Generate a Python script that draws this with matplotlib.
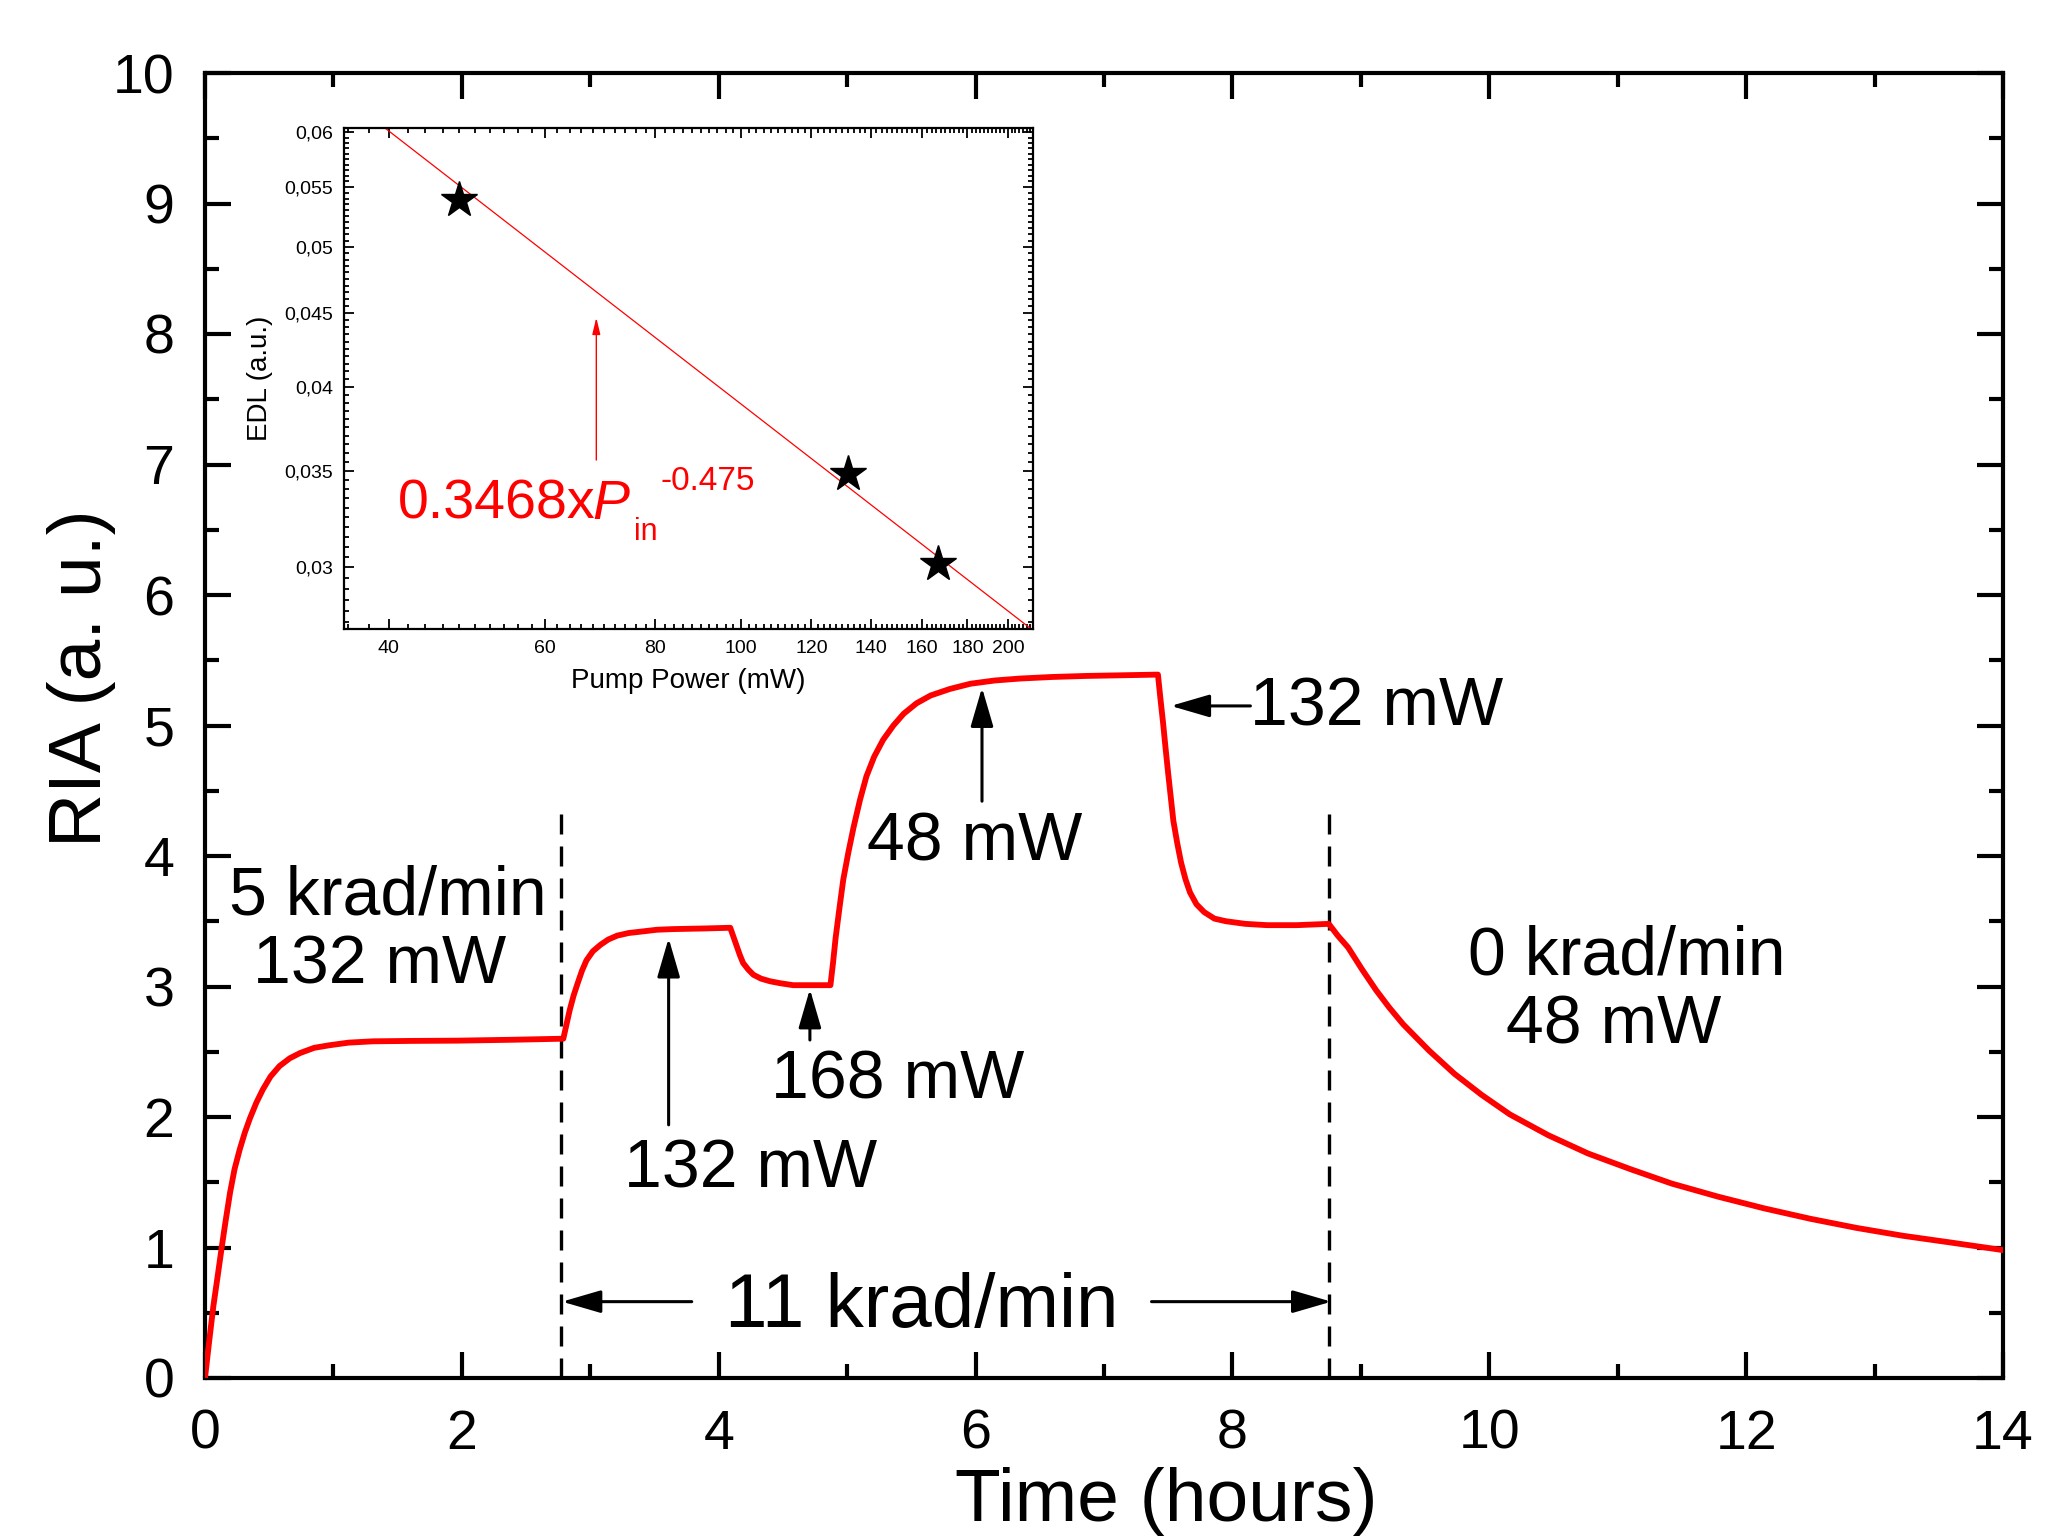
import numpy as np
import matplotlib
matplotlib.use("Agg")
import matplotlib.pyplot as plt
from matplotlib.ticker import FixedLocator, FixedFormatter, NullFormatter, MultipleLocator

plt.rcParams['font.family'] = ['Liberation Sans', 'DejaVu Sans']

# main curve: RIA vs time
time_h = [0, 0.03, 0.065, 0.1, 0.13, 0.16, 0.195, 0.23, 0.27, 0.31, 0.35, 0.40, 0.45, 0.51,
          0.58, 0.66, 0.74, 0.85, 0.97, 1.12, 1.31, 1.6, 1.96, 2.4, 2.79,
          2.815, 2.84, 2.87, 2.90, 2.935, 2.97, 3.02, 3.08, 3.14, 3.21, 3.30, 3.39, 3.52,
          3.65, 3.9, 4.09,
          4.115, 4.14, 4.165, 4.19, 4.23, 4.27, 4.33, 4.40, 4.48, 4.58, 4.87,
          4.89, 4.91, 4.94, 4.97, 5.01, 5.05, 5.10, 5.15, 5.21, 5.28, 5.36, 5.44, 5.54,
          5.65, 5.80, 5.96, 6.15, 6.35, 6.6, 6.87, 7.15, 7.42,
          7.44, 7.46, 7.48, 7.50, 7.52, 7.54, 7.57, 7.60, 7.635, 7.67, 7.72, 7.78, 7.86,
          7.95, 8.1, 8.27, 8.5, 8.75,
          8.82, 8.90, 9.01, 9.12, 9.22, 9.33, 9.53, 9.73, 9.94, 10.16, 10.46, 10.77,
          11.1, 11.42, 11.78, 12.14, 12.5, 12.86, 13.22, 13.58, 14.0]
ria = [0, 0.26, 0.55, 0.79, 1.0, 1.2, 1.42, 1.6, 1.75, 1.88, 1.99, 2.11, 2.21, 2.31,
       2.39, 2.45, 2.49, 2.53, 2.55, 2.57, 2.58, 2.583, 2.585, 2.592, 2.60,
       2.71, 2.82, 2.93, 3.02, 3.12, 3.20, 3.27, 3.32, 3.36, 3.39, 3.41, 3.42, 3.435,
       3.44, 3.445, 3.45,
       3.38, 3.31, 3.24, 3.18, 3.13, 3.09, 3.06, 3.04, 3.025, 3.01, 3.01,
       3.18, 3.37, 3.60, 3.82, 4.03, 4.22, 4.43, 4.61, 4.76, 4.89, 5.00, 5.09, 5.17,
       5.23, 5.28, 5.32, 5.345, 5.36, 5.372, 5.38, 5.385, 5.39,
       5.20, 5.02, 4.82, 4.63, 4.45, 4.27, 4.10, 3.95, 3.82, 3.72, 3.63, 3.57, 3.52,
       3.50, 3.48, 3.47, 3.47, 3.48,
       3.39, 3.30, 3.13, 2.97, 2.84, 2.71, 2.51, 2.33, 2.17, 2.02, 1.86, 1.72,
       1.60, 1.49, 1.39, 1.30, 1.22, 1.15, 1.09, 1.04, 0.98]

# dose-rate switch times
switch_t = [2.77, 8.75]
switch_top = [4.41, 4.33]

# inset: EDL vs pump power
pump_mw = [48.0, 131.9, 166.7]
edl = [0.0539, 0.03483, 0.03018]
fit_a = 0.3468
fit_b = -0.475

inset_xticks = [40, 60, 80, 100, 120, 140, 160, 180, 200]
inset_yticks = [0.03, 0.035, 0.04, 0.045, 0.05, 0.055, 0.06]
inset_ylabels = ['0,03', '0,035', '0,04', '0,045', '0,05', '0,055', '0,06']

fig = plt.figure(figsize=(20.47, 15.39), dpi=100)
W, H = 2047, 1539
ax = fig.add_axes([205 / W, (H - 1378) / H, (2003 - 205) / W, (1378 - 73) / H])

ax.plot(time_h, ria, color='#ff0000', lw=4.2, solid_joinstyle='round', zorder=3)
for t, top in zip(switch_t, switch_top):
    ax.plot([t, t], [0, top], color='k', lw=2.4, linestyle=(0, (6, 3.6)), zorder=2)

ax.set_xlim(0, 14)
ax.set_ylim(0, 10)
ax.xaxis.set_major_locator(MultipleLocator(2))
ax.xaxis.set_minor_locator(MultipleLocator(1))
ax.yaxis.set_major_locator(MultipleLocator(1))
ax.yaxis.set_minor_locator(MultipleLocator(0.5))
ax.tick_params(which='both', direction='in', top=True, right=True, width=3)
ax.tick_params(which='major', length=19, labelsize=40, pad=22)
ax.tick_params(which='minor', length=10)
for s in ax.spines.values():
    s.set_linewidth(3)

fig.text(82 / W, 1 - 678 / H, 'RIA (a. u.)', rotation=90, ha='center', va='center', fontsize=54)
fig.text(1166 / W, 0.002, 'Time (hours)', ha='center', va='bottom', fontsize=54)

# annotations
def arrow(a, tip, tail, lw=2.2):
    a.annotate('', xy=tip, xytext=tail,
               arrowprops=dict(arrowstyle='-|>,head_length=1.2,head_width=0.35',
                               mutation_scale=20, lw=lw, color='k', shrinkA=0, shrinkB=0))

fs = 49
ax.text(1.42, 3.69, '5 krad/min', ha='center', va='center', fontsize=fs)
ax.text(1.36, 3.16, '132 mW', ha='center', va='center', fontsize=fs)
ax.text(4.25, 1.60, '132 mW', ha='center', va='center', fontsize=fs)
arrow(ax, (3.61, 3.37), (3.61, 1.94))
ax.text(5.39, 2.28, '168 mW', ha='center', va='center', fontsize=fs)
arrow(ax, (4.71, 2.98), (4.71, 2.59))
ax.text(5.99, 4.10, '48 mW', ha='center', va='center', fontsize=fs)
arrow(ax, (6.05, 5.29), (6.05, 4.42))
ax.text(8.14, 5.14, '132 mW', ha='left', va='center', fontsize=fs)
arrow(ax, (7.52, 5.15), (8.14, 5.15))
ax.text(11.07, 3.23, '0 krad/min', ha='center', va='center', fontsize=fs)
ax.text(10.97, 2.70, '48 mW', ha='center', va='center', fontsize=fs)
ax.text(5.58, 0.54, '11 krad/min', ha='center', va='center', fontsize=55)
arrow(ax, (2.78, 0.585), (3.79, 0.585))
arrow(ax, (8.77, 0.585), (7.37, 0.585))

# inset
axi = fig.add_axes([344 / W, (H - 629) / H, (1033 - 344) / W, (629 - 128) / H])
axi.set_xscale('log')
axi.set_yscale('log')
axi.set_xlim(35.6, 213.5)
axi.set_ylim(0.0272, 0.06042)

p = np.array(axi.get_xlim())
p = np.geomspace(p[0], p[1], 50)
axi.plot(p, fit_a * p ** fit_b, color='#ff0000', lw=0.9)
axi.plot(pump_mw, edl, linestyle='none', marker='*', markersize=27, color='k')

axi.xaxis.set_major_locator(FixedLocator(inset_xticks))
axi.xaxis.set_major_formatter(FixedFormatter([str(v) for v in inset_xticks]))
axi.xaxis.set_minor_locator(FixedLocator(np.arange(36, 214, 2)))
axi.xaxis.set_minor_formatter(NullFormatter())
axi.yaxis.set_major_locator(FixedLocator(inset_yticks))
axi.yaxis.set_major_formatter(FixedFormatter(inset_ylabels))
axi.yaxis.set_minor_locator(FixedLocator(np.arange(0.0275, 0.0605, 0.0005)))
axi.yaxis.set_minor_formatter(NullFormatter())
axi.tick_params(which='both', direction='in', top=True, right=True, width=1.3)
axi.tick_params(which='major', length=7, labelsize=14, pad=8)
axi.tick_params(which='minor', length=3.5)
for s in axi.spines.values():
    s.set_linewidth(1.6)
axi.set_xlabel('Pump Power (mW)', fontsize=20, labelpad=8)
axi.set_ylabel('EDL (a.u.)', fontsize=20, labelpad=8)

axi.annotate('', xy=(68.6, 0.04467), xytext=(68.6, 0.0356),
             arrowprops=dict(arrowstyle='-|>,head_length=0.5,head_width=0.12',
                             mutation_scale=20, lw=1.0, color='#ff0000', shrinkA=0, shrinkB=0))
red = '#ff0000'
axi.text(0.0777, 0.2196, '0.3468x', transform=axi.transAxes, color=red, fontsize=40, va='baseline')
axi.text(0.3600, 0.2196, 'P', transform=axi.transAxes, color=red, fontsize=40, va='baseline', style='italic')
axi.text(0.4209, 0.1782, 'in', transform=axi.transAxes, color=red, fontsize=22, va='baseline')
axi.text(0.4595, 0.2784, '-0.475', transform=axi.transAxes, color=red, fontsize=24, va='baseline')

fig.savefig('out.png', dpi=100)
